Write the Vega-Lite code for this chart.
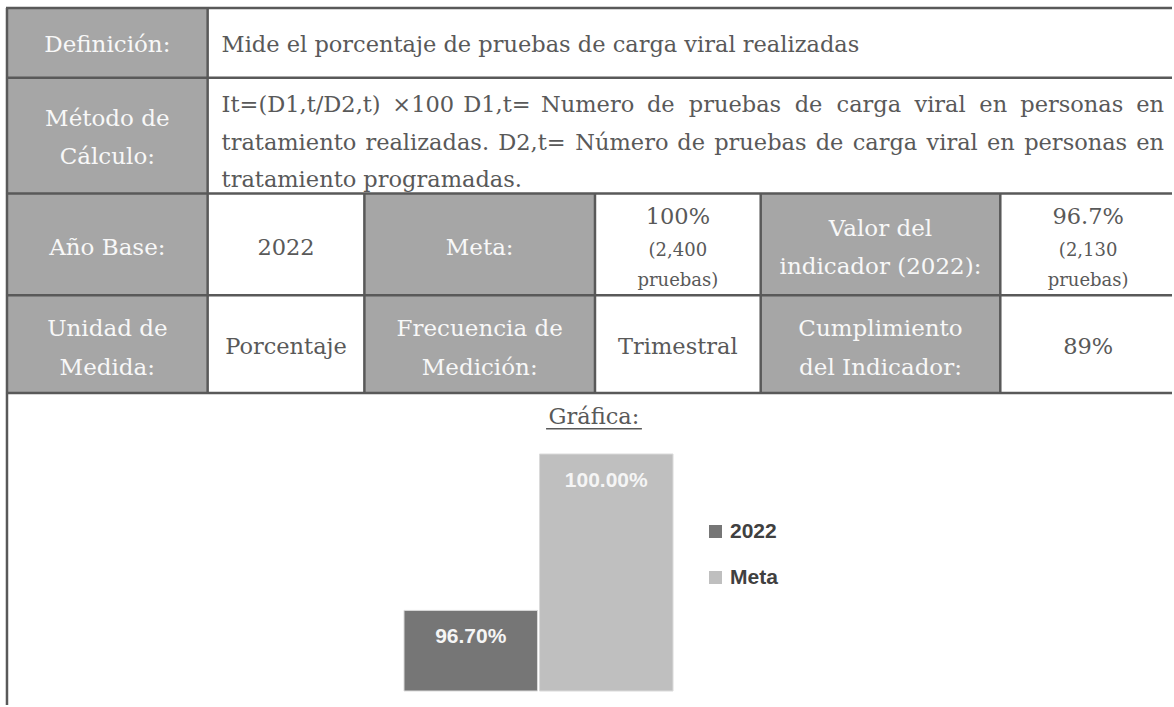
{
  "$schema": "https://vega.github.io/schema/vega-lite/v6.json",
  "width": 1174,
  "height": 707,
  "autosize": {"type": "fit", "contains": "padding"},
  "padding": 0,
  "background": "white",
  "config": {"view": {"stroke": null}},
  "datasets": {
    "cells": [
      {"x": 7, "x2": 208, "y": 8, "y2": 394},
      {"x": 365, "x2": 596, "y": 194, "y2": 394},
      {"x": 762, "x2": 1002, "y": 194, "y2": 394}
    ],
    "lines": [
      {"x": 6, "x2": 1174, "y": 8, "y2": 8},
      {"x": 6, "x2": 1174, "y": 78, "y2": 78},
      {"x": 6, "x2": 1174, "y": 194, "y2": 194},
      {"x": 6, "x2": 1174, "y": 296, "y2": 296},
      {"x": 6, "x2": 1174, "y": 394, "y2": 394},
      {"x": 7, "x2": 7, "y": 8, "y2": 707},
      {"x": 208, "x2": 208, "y": 8, "y2": 394},
      {"x": 365, "x2": 365, "y": 194, "y2": 394},
      {"x": 596, "x2": 596, "y": 194, "y2": 394},
      {"x": 762, "x2": 762, "y": 194, "y2": 394},
      {"x": 1002, "x2": 1002, "y": 194, "y2": 394}
    ],
    "underline": [
      {"x": 547, "x2": 643, "y": 430, "y2": 430}
    ],
    "texts": [
      {"t": "Definición:", "x": 107.5, "y": 45, "k": "h"},
      {"t": "Método de", "x": 107.5, "y": 119, "k": "h"},
      {"t": "Cálculo:", "x": 107.5, "y": 157, "k": "h"},
      {"t": "Año Base:", "x": 107.5, "y": 249, "k": "h"},
      {"t": "Unidad de", "x": 107.5, "y": 330, "k": "h"},
      {"t": "Medida:", "x": 107.5, "y": 369, "k": "h"},
      {"t": "Meta:", "x": 480.5, "y": 249, "k": "h"},
      {"t": "Frecuencia de", "x": 480.5, "y": 330, "k": "h"},
      {"t": "Medición:", "x": 480.5, "y": 369, "k": "h"},
      {"t": "Valor del", "x": 882, "y": 230, "k": "h"},
      {"t": "indicador (2022):", "x": 882, "y": 268, "k": "h"},
      {"t": "Cumplimiento", "x": 882, "y": 330, "k": "h"},
      {"t": "del Indicador:", "x": 882, "y": 369, "k": "h"},
      {"t": "2022", "x": 286.5, "y": 249, "k": "v"},
      {"t": "Porcentaje", "x": 286.5, "y": 348, "k": "v"},
      {"t": "100%", "x": 679, "y": 218, "k": "v"},
      {"t": "(2,400", "x": 679, "y": 252, "k": "s"},
      {"t": "pruebas)", "x": 679, "y": 282, "k": "s"},
      {"t": "Trimestral", "x": 679, "y": 348, "k": "v"},
      {"t": "96.7%", "x": 1090, "y": 218, "k": "v"},
      {"t": "(2,130", "x": 1090, "y": 252, "k": "s"},
      {"t": "pruebas)", "x": 1090, "y": 282, "k": "s"},
      {"t": "89%", "x": 1090, "y": 348, "k": "v"},
      {"t": "Gráfica:", "x": 595, "y": 418, "k": "v"},
      {"t": "Mide el porcentaje de pruebas de carga viral realizadas", "x": 222, "y": 45, "k": "b"},
      {"t": "It=(D1,t/D2,t)", "x": 222, "y": 105, "k": "b"},
      {"t": "×100", "x": 393, "y": 105, "k": "b"},
      {"t": "D1,t=", "x": 464, "y": 105, "k": "b"},
      {"t": "Numero", "x": 542, "y": 105, "k": "b"},
      {"t": "de", "x": 648, "y": 105, "k": "b"},
      {"t": "pruebas", "x": 690, "y": 105, "k": "b"},
      {"t": "de", "x": 796, "y": 105, "k": "b"},
      {"t": "carga", "x": 838, "y": 105, "k": "b"},
      {"t": "viral", "x": 916, "y": 105, "k": "b"},
      {"t": "en", "x": 981, "y": 105, "k": "b"},
      {"t": "personas", "x": 1022, "y": 105, "k": "b"},
      {"t": "en", "x": 1166, "y": 105, "k": "r"},
      {"t": "tratamiento", "x": 222, "y": 143, "k": "b"},
      {"t": "realizadas.", "x": 366, "y": 143, "k": "b"},
      {"t": "D2,t=", "x": 499, "y": 143, "k": "b"},
      {"t": "Número", "x": 576.3, "y": 143, "k": "b"},
      {"t": "de", "x": 678.4, "y": 143, "k": "b"},
      {"t": "pruebas", "x": 715.4, "y": 143, "k": "b"},
      {"t": "de", "x": 817.1, "y": 143, "k": "b"},
      {"t": "carga", "x": 854.1, "y": 143, "k": "b"},
      {"t": "viral", "x": 928.1, "y": 143, "k": "b"},
      {"t": "en", "x": 988.7, "y": 143, "k": "b"},
      {"t": "personas", "x": 1025.9, "y": 143, "k": "b"},
      {"t": "en", "x": 1166, "y": 143, "k": "r"},
      {"t": "tratamiento programadas.", "x": 222, "y": 181, "k": "b"}
    ],
    "bars": [
      {"serie": "2022", "valor": 0.967},
      {"serie": "Meta", "valor": 1.0}
    ]
  },
  "layer": [
    {
      "encoding": {
        "x": {"field": "x", "type": "quantitative", "axis": null, "scale": {"domain": [0, 1174], "nice": false, "zero": false}},
        "y": {"field": "y", "type": "quantitative", "axis": null, "scale": {"domain": [0, 707], "nice": false, "zero": false, "reverse": true}}
      },
      "layer": [
        {
          "data": {"name": "cells"},
          "mark": {"type": "rect", "color": "#a6a6a6"},
          "encoding": {"x2": {"field": "x2"}, "y2": {"field": "y2"}}
        },
        {
          "data": {"name": "lines"},
          "mark": {"type": "rule", "color": "#595959", "strokeWidth": 2.5},
          "encoding": {"x2": {"field": "x2"}, "y2": {"field": "y2"}}
        },
        {
          "data": {"name": "underline"},
          "mark": {"type": "rule", "color": "#595959", "strokeWidth": 1.5},
          "encoding": {"x2": {"field": "x2"}, "y2": {"field": "y2"}}
        },
        {
          "data": {"name": "texts"},
          "transform": [{"filter": "datum.k === 'h'"}],
          "mark": {"type": "text", "font": "DejaVu Serif", "fontSize": 23, "color": "#f8f8f8", "align": "center", "baseline": "middle"},
          "encoding": {"text": {"field": "t"}}
        },
        {
          "data": {"name": "texts"},
          "transform": [{"filter": "datum.k === 'v'"}],
          "mark": {"type": "text", "font": "DejaVu Serif", "fontSize": 22.5, "color": "#595959", "align": "center", "baseline": "middle"},
          "encoding": {"text": {"field": "t"}}
        },
        {
          "data": {"name": "texts"},
          "transform": [{"filter": "datum.k === 's'"}],
          "mark": {"type": "text", "font": "DejaVu Serif", "fontSize": 18, "color": "#595959", "align": "center", "baseline": "middle"},
          "encoding": {"text": {"field": "t"}}
        },
        {
          "data": {"name": "texts"},
          "transform": [{"filter": "datum.k === 'b'"}],
          "mark": {"type": "text", "font": "DejaVu Serif", "fontSize": 22.5, "color": "#595959", "align": "left", "baseline": "middle"},
          "encoding": {"text": {"field": "t"}}
        },
        {
          "data": {"name": "texts"},
          "transform": [{"filter": "datum.k === 'r'"}],
          "mark": {"type": "text", "font": "DejaVu Serif", "fontSize": 22.5, "color": "#595959", "align": "right", "baseline": "middle"},
          "encoding": {"text": {"field": "t"}}
        }
      ]
    },
    {
      "data": {"name": "bars"},
      "encoding": {
        "x": {"field": "serie", "type": "nominal", "axis": null, "scale": {"range": [404, 673], "paddingInner": 0.015, "paddingOuter": 0}},
        "y": {"field": "valor", "type": "quantitative", "axis": null, "scale": {"domain": [0.95, 1.0], "range": [691, 454], "zero": false, "nice": false}}
      },
      "layer": [
        {
          "mark": {"type": "bar", "stroke": "#dadada", "strokeWidth": 1},
          "encoding": {
            "y2": {"datum": 0.95},
            "color": {
              "field": "serie",
              "type": "nominal",
              "scale": {"domain": ["2022", "Meta"], "range": ["#767676", "#bfbfbf"]},
              "legend": {
                "orient": "none",
                "legendX": 705,
                "legendY": 521,
                "title": null,
                "symbolType": "square",
                "symbolSize": 169,
                "symbolStrokeWidth": 0,
                "labelFont": "Liberation Sans",
                "labelFontWeight": "bold",
                "labelFontSize": 21,
                "labelColor": "#404040",
                "labelOffset": 4,
                "rowPadding": 24,
                "padding": 0
              }
            }
          }
        },
        {
          "mark": {"type": "text", "dy": 27, "font": "Liberation Sans", "fontWeight": "bold", "fontSize": 21, "color": "#f5f5f5", "baseline": "middle"},
          "encoding": {"text": {"field": "valor", "type": "quantitative", "format": ".2%"}}
        }
      ]
    }
  ],
  "resolve": {"scale": {"x": "independent", "y": "independent"}}
}
